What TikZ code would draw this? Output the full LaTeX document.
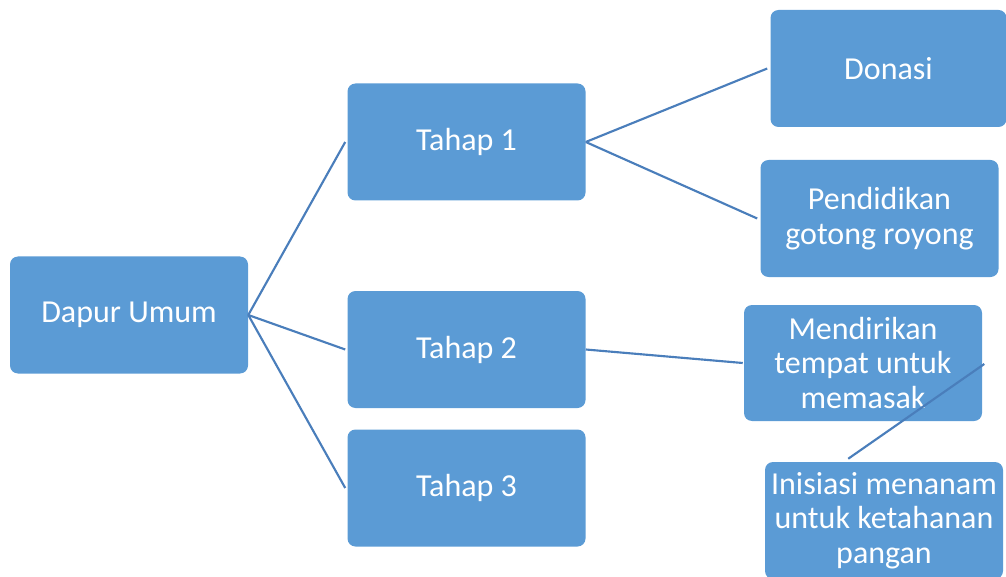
\documentclass[tikz,border=0pt]{standalone}
\usepackage{fontspec}
\setmainfont{Carlito}
\usetikzlibrary{calc}
\definecolor{boxfill}{RGB}{91,155,213}
\definecolor{linecol}{RGB}{74,126,187}
\tikzset{
  box/.style={rectangle, rounded corners=6pt, fill=boxfill, text=white,
    minimum width=178.5pt, minimum height=87.75pt, inner sep=0pt,
    align=center, font=\fontsize{24}{26}\selectfont},
  conn/.style={draw=linecol, line width=1.6pt}
}
\begin{document}
\begin{tikzpicture}[x=0.75pt, y=-0.75pt]
\useasboundingbox (0,0) rectangle (1006,577);
\clip (0,0) rectangle (1006,577);
\node[box] (dapur) at (129,315) {Dapur Umum};
\node[box] (t1) at (466.5,142) {Tahap 1};
\node[box] (t2) at (466.5,349.5) {Tahap 2};
\node[box] (t3) at (466.5,488) {Tahap 3};
\node[box, minimum width=177pt] (donasi) at (888.5,68.5) {Donasi};
\node[box] (pend) at (879.5,218.5) {Pendidikan\\gotong royong};
\node[box, minimum height=87pt] (mend) at (863,363) {Mendirikan\\tempat untuk\\memasak};
\node[box] (inis) at (884,520.5) {Inisiasi menanam\\untuk ketahanan\\pangan};
\draw[conn] (dapur.east) -- ($(t1.west)+(-2,0)$);
\draw[conn] (dapur.east) -- ($(t2.west)+(-2,0)$);
\draw[conn] (dapur.east) -- ($(t3.west)+(-2,0)$);
\draw[conn] (t1.east) -- ($(donasi.west)+(-3,0)$);
\draw[conn] (t1.east) -- ($(pend.west)+(-3,0)$);
\draw[conn] (t2.east) -- ($(mend.west)+(-1,0)$);
\draw[conn] ($(mend.east)+(2,1)$) -- ($(inis.north west)!0.35!(inis.north east)+(0,-3)$);
\end{tikzpicture}
\end{document}
